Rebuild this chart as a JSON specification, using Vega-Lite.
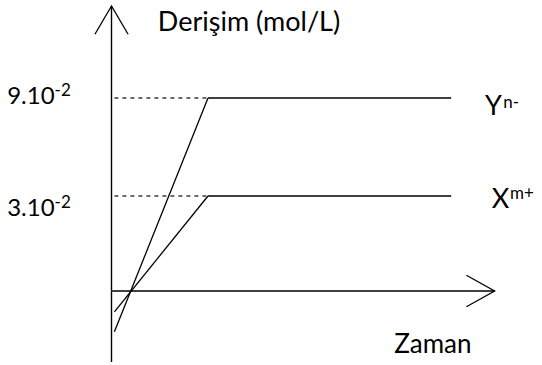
{
  "$schema": "https://vega.github.io/schema/vega-lite/v6.json",
  "width": 542,
  "height": 365,
  "autosize": {"type": "none"},
  "padding": 0,
  "background": "white",
  "config": {"view": {"stroke": null}},
  "datasets": {
    "vaxis": [
      {"t": 0, "c": -2.24},
      {"t": 0, "c": 14.63}
    ],
    "haxis": [
      {"t": 0, "c": 0},
      {"t": 3.97, "c": 0}
    ],
    "levels": [
      {"ion": "Y", "t": 1, "c": 9},
      {"ion": "Y", "t": 3.52, "c": 9},
      {"ion": "X", "t": 1, "c": 3},
      {"ion": "X", "t": 3.52, "c": 3}
    ],
    "guides": [
      {"ion": "Y", "t": 0.03, "c": 9},
      {"ion": "Y", "t": 1, "c": 9},
      {"ion": "X", "t": 0.03, "c": 3},
      {"ion": "X", "t": 1, "c": 3}
    ],
    "rises": [
      {"ion": "Y", "t": 0.03, "c": -1.29},
      {"ion": "Y", "t": 1, "c": 9},
      {"ion": "X", "t": 0.03, "c": -0.66},
      {"ion": "X", "t": 1, "c": 3}
    ],
    "heads": [
      {"dir": "up", "t": 0, "c": 14.63},
      {"dir": "right", "t": 3.97, "c": 0}
    ],
    "ticklabels": [
      {"text": "9.10", "t": -0.59, "c": 9.06},
      {"text": "3.10", "t": -0.59, "c": 2.59}
    ],
    "labels": [
      {"text": "Y", "t": 3.87, "c": 8.42, "align": "left"},
      {"text": "X", "t": 3.94, "c": 2.87, "align": "left"},
      {"text": "Derişim (mol/L)", "t": 0.48, "c": 13.6, "align": "left"},
      {"text": "Zaman", "t": 3.33, "c": -1.71, "align": "center"}
    ],
    "sups": [
      {"text": "-2", "t": -0.59, "c": 9.43},
      {"text": "-2", "t": -0.59, "c": 2.78},
      {"text": "n-", "t": 4.06, "c": 8.72},
      {"text": "m+", "t": 4.13, "c": 3.12}
    ]
  },
  "encoding": {
    "x": {"field": "t", "type": "quantitative", "axis": null,
          "scale": {"domain": [0, 1], "range": [111.5, 208], "nice": false, "zero": false}},
    "y": {"field": "c", "type": "quantitative", "axis": null,
          "scale": {"domain": [0, 3, 9], "range": [291, 196, 98], "nice": false, "zero": false}}
  },
  "layer": [
    {
      "data": {"name": "vaxis"},
      "mark": {"type": "line", "color": "#000000", "strokeWidth": 1.4},
      "encoding": {}
    },
    {
      "data": {"name": "haxis"},
      "mark": {"type": "line", "color": "#404040", "strokeWidth": 1.8},
      "encoding": {}
    },
    {
      "data": {"name": "levels"},
      "mark": {"type": "line", "color": "#404040", "strokeWidth": 2},
      "encoding": {"detail": {"field": "ion"}}
    },
    {
      "data": {"name": "guides"},
      "mark": {"type": "line", "color": "#404040", "strokeWidth": 1.3, "strokeDash": [4, 4]},
      "encoding": {"detail": {"field": "ion"}}
    },
    {
      "data": {"name": "rises"},
      "mark": {"type": "line", "color": "#000000", "strokeWidth": 1.3},
      "encoding": {"detail": {"field": "ion"}}
    },
    {
      "data": {"name": "heads"},
      "transform": [{"filter": "datum.dir == 'up'"}],
      "mark": {"type": "point", "filled": false, "color": "#000000", "strokeWidth": 1.3, "opacity": 1,
               "shape": "M-1,1.7L0,0L1,1.7", "size": 1100}
    },
    {
      "data": {"name": "heads"},
      "transform": [{"filter": "datum.dir == 'right'"}],
      "mark": {"type": "point", "filled": false, "color": "#000000", "strokeWidth": 1.3, "opacity": 1,
               "shape": "M-1.7,-0.95L0,0L-1.7,0.95", "size": 1100}
    },
    {
      "data": {"name": "ticklabels"},
      "mark": {"type": "text", "align": "right", "baseline": "middle", "font": "Lato", "fontSize": 24, "color": "#000000"},
      "encoding": {"text": {"field": "text"}}
    },
    {
      "data": {"name": "labels"},
      "transform": [{"filter": "datum.align == 'left'"}],
      "mark": {"type": "text", "align": "left", "baseline": "middle", "font": "Lato", "fontSize": 27, "color": "#000000"},
      "encoding": {"text": {"field": "text"}}
    },
    {
      "data": {"name": "labels"},
      "transform": [{"filter": "datum.align == 'center'"}],
      "mark": {"type": "text", "align": "center", "baseline": "middle", "font": "Lato", "fontSize": 26, "color": "#000000"},
      "encoding": {"text": {"field": "text"}}
    },
    {
      "data": {"name": "sups"},
      "mark": {"type": "text", "align": "left", "baseline": "middle", "font": "Lato", "fontSize": 17, "color": "#000000"},
      "encoding": {"text": {"field": "text"}}
    }
  ]
}
